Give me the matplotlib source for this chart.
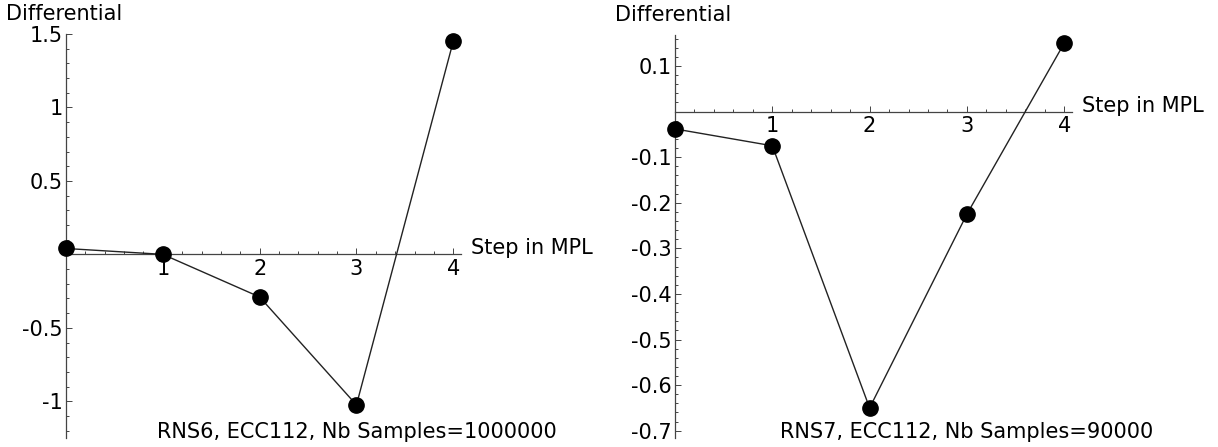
import matplotlib
matplotlib.use("Agg")
import matplotlib.pyplot as plt
from matplotlib.ticker import MultipleLocator

plt.rcParams["font.family"] = ["DejaVu Sans"]
plt.rcParams["axes.unicode_minus"] = False

# Differential measured at each MPL step
steps = [0, 1, 2, 3, 4]
diff_rns6 = [0.04, 0.0, -0.29, -1.025, 1.45]
diff_rns7 = [-0.038, -0.075, -0.65, -0.225, 0.15]

titles = ["RNS6, ECC112, Nb Samples=1000000", "RNS7, ECC112, Nb Samples=90000"]
x_label = "Step in MPL"
y_label = "Differential"

x_ticks = [1, 2, 3, 4]
x_tick_labels = ["1", "2", "3", "4"]
y_ticks_rns6 = [-1, -0.5, 0.5, 1, 1.5]
y_tick_labels_rns6 = ["-1", "-0.5", "0.5", "1", "1.5"]
y_ticks_rns7 = [-0.7, -0.6, -0.5, -0.4, -0.3, -0.2, -0.1, 0.1]
y_tick_labels_rns7 = ["-0.7", "-0.6", "-0.5", "-0.4", "-0.3", "-0.2", "-0.1", "0.1"]

W, H = 1218, 447
fig = plt.figure(figsize=(W / 100, H / 100), dpi=100)


def px_axes(left, top, right, bottom):
    return fig.add_axes([left / W, 1 - bottom / H, (right - left) / W, (bottom - top) / H])


ax1 = px_axes(66, 34, 461, 438)
ax2 = px_axes(675, 35, 1072, 438)

panels = [
    (ax1, diff_rns6, (-1.25, 1.5), y_ticks_rns6, y_tick_labels_rns6, 0.1, titles[0]),
    (ax2, diff_rns7, (-0.716, 0.168), y_ticks_rns7, y_tick_labels_rns7, 0.02, titles[1]),
]

axis_color = "#444444"
fs = 15

for ax, vals, ylim, yt, ytl, yminor, title in panels:
    ax.set_xlim(0, 4.08)
    ax.set_ylim(*ylim)
    for side in ("top", "right"):
        ax.spines[side].set_visible(False)
    ax.spines["left"].set_position(("data", 0))
    ax.spines["bottom"].set_position(("data", 0))
    for side in ("left", "bottom"):
        ax.spines[side].set_color(axis_color)
        ax.spines[side].set_linewidth(0.9)

    ax.set_xticks(x_ticks)
    ax.set_xticklabels(x_tick_labels)
    ax.xaxis.set_minor_locator(MultipleLocator(0.2))
    ax.set_yticks(yt)
    ax.set_yticklabels(ytl)
    ax.yaxis.set_minor_locator(MultipleLocator(yminor))

    ax.tick_params(which="both", direction="in", colors=axis_color, labelcolor="black",
                   labelsize=fs, width=0.7)
    ax.tick_params(which="major", length=4.5)
    ax.tick_params(which="minor", length=2.5)
    ax.tick_params(axis="x", which="major", pad=3)
    ax.tick_params(axis="y", which="major", pad=2.5)

    ax.plot(steps, vals, color="#222222", lw=1.0, zorder=3, clip_on=False)
    ax.plot(steps, vals, "o", color="black", ms=11, zorder=4, clip_on=False)

    # axis labels at the ends of the axes
    ax.annotate(x_label, xy=(1, 0), xycoords=("axes fraction", "data"),
                xytext=(7, 0), textcoords="offset points",
                ha="left", va="baseline", fontsize=fs)
    ax.annotate(y_label, xy=(0, 1), xycoords=("data", "axes fraction"),
                xytext=(-1, 10), textcoords="offset points",
                ha="center", va="baseline", fontsize=fs)

    # run description along the bottom
    ax.annotate(title, xy=(3, 0), xycoords=("data", "axes fraction"),
                xytext=(0, 0), textcoords="offset points",
                ha="center", va="baseline", fontsize=fs)

fig.savefig("out.png", dpi=100)
